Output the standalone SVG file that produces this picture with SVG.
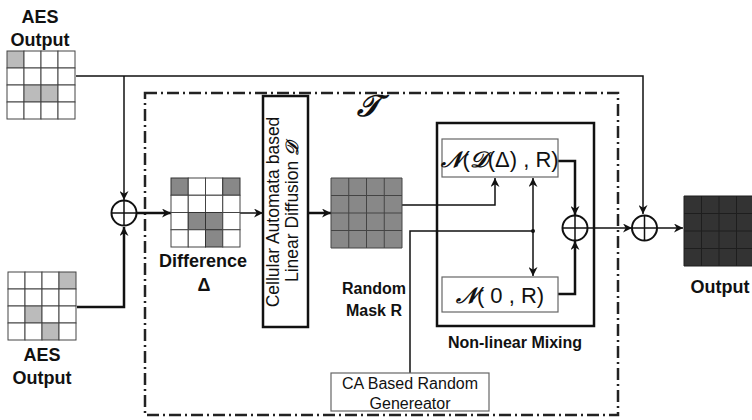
<svg xmlns="http://www.w3.org/2000/svg" width="752" height="420" viewBox="0 0 752 420">
<defs>
<marker id="ah" viewBox="0 0 10 10" refX="10" refY="5" markerWidth="9" markerHeight="9" markerUnits="userSpaceOnUse" orient="auto">
<path d="M0,0 L10,5 L0,10 L3,5 z" fill="#111"/>
</marker>
<marker id="ahs" viewBox="0 0 10 10" refX="10" refY="5" markerWidth="9" markerHeight="9" markerUnits="userSpaceOnUse" orient="auto-start-reverse">
<path d="M0,0 L10,5 L0,10 L3,5 z" fill="#111"/>
</marker>
</defs>
<style>
.lbl{font-family:"Liberation Sans",Arial,sans-serif;font-weight:bold;fill:#111;text-anchor:middle}
.reg{font-family:"Liberation Sans",Arial,sans-serif;fill:#111;text-anchor:middle}
.scr{font-family:"DejaVu Serif",serif;font-style:italic;font-weight:bold}
.ln{fill:none;stroke:#111;stroke-width:1.5}
.thk{fill:none;stroke:#111;stroke-width:2.5}
.xor{fill:#fff;stroke:#111;stroke-width:2}
.cellL{fill:#fff;stroke:#444;stroke-width:1}
.grayL{fill:#bbb;stroke:#444;stroke-width:1}
.grayM{fill:#888;stroke:#333;stroke-width:1}
.thinbox{fill:#fff;stroke:#666;stroke-width:1.2}
</style>
<rect width="752" height="420" fill="#fff"/>

<!-- dashed transformation boundary -->
<g id="boundary">
<rect x="145" y="93" width="473" height="322" fill="none" stroke="#222" stroke-width="2.5" stroke-dasharray="12,4,2,4"/>
<text class="scr" x="368" y="116" font-size="30" fill="#111" text-anchor="middle">𝒯</text>
</g>

<!-- connectors -->
<g id="connectors">
<polyline class="ln" points="76,76 643,76 643,214" marker-end="url(#ah)"/>
<line class="ln" x1="124" y1="76" x2="124" y2="200" marker-end="url(#ah)"/>
<polyline class="thk" points="77,307 124,307 124,227" marker-end="url(#ah)"/>
<line class="thk" x1="136" y1="213" x2="171" y2="213" marker-end="url(#ah)"/>
<line class="ln" x1="240" y1="213" x2="263" y2="213" marker-end="url(#ah)"/>
<line class="thk" x1="308" y1="213" x2="331" y2="213" marker-end="url(#ah)"/>
<polyline class="ln" points="402,205 495,205 495,178" marker-end="url(#ah)"/>
<polyline class="ln" points="410,373 410,231 533,231"/>
<line class="ln" x1="533" y1="178" x2="533" y2="276" marker-start="url(#ahs)" marker-end="url(#ah)"/>
<circle cx="533" cy="231" r="2" fill="#111"/>
<polyline class="thk" points="558,161 575,161 575,215" marker-end="url(#ah)"/>
<polyline class="thk" points="558,294 575,294 575,241" marker-end="url(#ah)"/>
<line class="ln" x1="587" y1="228" x2="632" y2="228" marker-end="url(#ah)"/>
<line class="ln" x1="657" y1="228" x2="683" y2="228" marker-end="url(#ah)"/>
</g>

<!-- AES output top -->
<g id="aes-top">
<text class="lbl" x="40" y="23" font-size="18">AES</text>
<text class="lbl" x="40" y="46" font-size="18">Output</text>
<rect class="grayL" x="7" y="51" width="17" height="17"/>
<rect class="cellL" x="24" y="51" width="17" height="17"/>
<rect class="cellL" x="41" y="51" width="17" height="17"/>
<rect class="cellL" x="58" y="51" width="17" height="17"/>
<rect class="cellL" x="7" y="68" width="17" height="17"/>
<rect class="cellL" x="24" y="68" width="17" height="17"/>
<rect class="cellL" x="41" y="68" width="17" height="17"/>
<rect class="cellL" x="58" y="68" width="17" height="17"/>
<rect class="cellL" x="7" y="85" width="17" height="17"/>
<rect class="grayL" x="24" y="85" width="17" height="17"/>
<rect class="grayL" x="41" y="85" width="17" height="17"/>
<rect class="cellL" x="58" y="85" width="17" height="17"/>
<rect class="cellL" x="7" y="102" width="17" height="17"/>
<rect class="cellL" x="24" y="102" width="17" height="17"/>
<rect class="cellL" x="41" y="102" width="17" height="17"/>
<rect class="cellL" x="58" y="102" width="17" height="17"/>
</g>

<!-- AES output bottom -->
<g id="aes-bottom">
<rect class="cellL" x="8" y="272" width="17" height="17"/>
<rect class="cellL" x="25" y="272" width="17" height="17"/>
<rect class="cellL" x="42" y="272" width="17" height="17"/>
<rect class="grayL" x="59" y="272" width="17" height="17"/>
<rect class="cellL" x="8" y="289" width="17" height="17"/>
<rect class="cellL" x="25" y="289" width="17" height="17"/>
<rect class="cellL" x="42" y="289" width="17" height="17"/>
<rect class="cellL" x="59" y="289" width="17" height="17"/>
<rect class="cellL" x="8" y="306" width="17" height="17"/>
<rect class="grayL" x="25" y="306" width="17" height="17"/>
<rect class="cellL" x="42" y="306" width="17" height="17"/>
<rect class="cellL" x="59" y="306" width="17" height="17"/>
<rect class="cellL" x="8" y="323" width="17" height="17"/>
<rect class="cellL" x="25" y="323" width="17" height="17"/>
<rect class="grayL" x="42" y="323" width="17" height="17"/>
<rect class="cellL" x="59" y="323" width="17" height="17"/>
<text class="lbl" x="42" y="361" font-size="18">AES</text>
<text class="lbl" x="42" y="384" font-size="18">Output</text>
</g>

<!-- XOR left -->
<g id="xor-left">
<circle class="xor" cx="124" cy="213" r="12.5"/>
<path class="ln" d="M111.5,213 H136.5 M124,200.5 V225.5"/>
</g>

<!-- Difference -->
<g id="difference">
<rect class="grayM" x="171" y="178" width="17.25" height="17.25"/>
<rect class="cellL" x="188.25" y="178" width="17.25" height="17.25"/>
<rect class="cellL" x="205.5" y="178" width="17.25" height="17.25"/>
<rect class="grayM" x="222.75" y="178" width="17.25" height="17.25"/>
<rect class="cellL" x="171" y="195.25" width="17.25" height="17.25"/>
<rect class="cellL" x="188.25" y="195.25" width="17.25" height="17.25"/>
<rect class="cellL" x="205.5" y="195.25" width="17.25" height="17.25"/>
<rect class="cellL" x="222.75" y="195.25" width="17.25" height="17.25"/>
<rect class="cellL" x="171" y="212.5" width="17.25" height="17.25"/>
<rect class="grayM" x="188.25" y="212.5" width="17.25" height="17.25"/>
<rect class="grayM" x="205.5" y="212.5" width="17.25" height="17.25"/>
<rect class="cellL" x="222.75" y="212.5" width="17.25" height="17.25"/>
<rect class="cellL" x="171" y="229.75" width="17.25" height="17.25"/>
<rect class="cellL" x="188.25" y="229.75" width="17.25" height="17.25"/>
<rect class="grayM" x="205.5" y="229.75" width="17.25" height="17.25"/>
<rect class="cellL" x="222.75" y="229.75" width="17.25" height="17.25"/>
<text class="lbl" x="203" y="267" font-size="18">Difference</text>
<text class="lbl" x="204" y="291" font-size="18">Δ</text>
</g>

<!-- CA linear diffusion -->
<g id="ca-diffusion">
<rect x="263" y="96" width="45" height="231" fill="#fff" stroke="#111" stroke-width="2.5"/>
<text class="reg" font-size="17.5" transform="translate(278.5,212) rotate(-90)">Cellular Automata based</text>
<text class="reg" font-size="17.5" transform="translate(298,212) rotate(-90)">Linear Diffusion <tspan class="scr">𝒟</tspan></text>
</g>

<!-- Random mask -->
<g id="random-mask">
<rect x="331" y="178" width="71" height="70" fill="#888"/>
<path d="M331,178 H402 V248 H331 Z M348.75,178 V248 M366.5,178 V248 M384.25,178 V248 M331,195.5 H402 M331,213 H402 M331,230.5 H402" fill="none" stroke="#444" stroke-width="1"/>
<text class="lbl" x="374" y="294" font-size="16">Random</text>
<text class="lbl" x="374" y="316" font-size="16">Mask R</text>
</g>

<!-- Non-linear mixing -->
<g id="nonlinear-mixing">
<rect x="437" y="123" width="157" height="203" fill="none" stroke="#111" stroke-width="2.5"/>
<text class="lbl" x="515" y="348" font-size="16">Non-linear Mixing</text>
</g>

<g id="n-dr">
<rect class="thinbox" x="442" y="139" width="116" height="38"/>
<text class="reg" x="500" y="167" font-size="22"><tspan class="scr">𝒩</tspan>(<tspan class="scr">𝒟</tspan>(Δ) , R)</text>
</g>

<g id="n-0r">
<rect class="thinbox" x="442" y="277" width="116" height="35"/>
<text class="reg" x="500" y="303" font-size="22"><tspan class="scr">𝒩</tspan>( 0 , R)</text>
</g>

<g id="xor-mix">
<circle class="xor" cx="575" cy="228" r="12.5"/>
<path class="ln" d="M562.5,228 H587.5 M575,215.5 V240.5"/>
</g>

<g id="xor-right">
<circle class="xor" cx="644.5" cy="228" r="12.5"/>
<path class="ln" d="M632,228 H657 M644.5,215.5 V240.5"/>
</g>

<!-- Output -->
<g id="output">
<rect x="684" y="196" width="70" height="70" fill="#333"/>
<path d="M684,196 V266 H754 M701.5,196 V266 M719,196 V266 M736.5,196 V266 M684,213.5 H752 M684,231 H752 M684,248.5 H752 M684,196 H752" fill="none" stroke="#1e1e1e" stroke-width="1"/>
<text class="lbl" x="720" y="293" font-size="18">Output</text>
</g>

<!-- CA random generator -->
<g id="ca-generator">
<rect class="thinbox" x="331" y="373" width="158" height="38"/>
<text class="reg" x="410" y="389" font-size="16">CA Based Random</text>
<text class="reg" x="410" y="409" font-size="16">Genereator</text>
</g>
</svg>
